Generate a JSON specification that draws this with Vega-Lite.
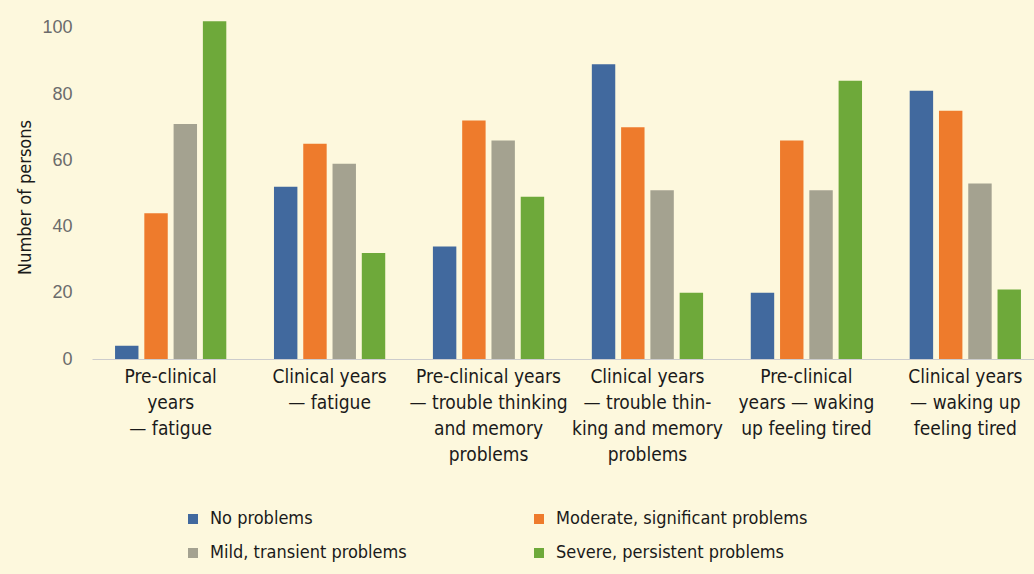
{
  "$schema": "https://vega.github.io/schema/vega-lite/v6.json",
  "width": 952,
  "height": 349,
  "autosize": {"type": "none"},
  "padding": {"left": 92, "top": 10, "right": 0, "bottom": 215},
  "background": "#fdf8dd",
  "config": {"view": {"stroke": null}, "font": "'Liberation Sans Narrow', 'DejaVu Sans Condensed', 'Roboto Condensed', Roboto, sans-serif"},
  "data": {
    "values": [
      {"group": "Pre-clinical|years|— fatigue", "cat": "No problems", "value": 4},
      {"group": "Pre-clinical|years|— fatigue", "cat": "Moderate, significant problems", "value": 44},
      {"group": "Pre-clinical|years|— fatigue", "cat": "Mild, transient problems", "value": 71},
      {"group": "Pre-clinical|years|— fatigue", "cat": "Severe, persistent problems", "value": 102},
      {"group": "Clinical years|— fatigue", "cat": "No problems", "value": 52},
      {"group": "Clinical years|— fatigue", "cat": "Moderate, significant problems", "value": 65},
      {"group": "Clinical years|— fatigue", "cat": "Mild, transient problems", "value": 59},
      {"group": "Clinical years|— fatigue", "cat": "Severe, persistent problems", "value": 32},
      {"group": "Pre-clinical years|— trouble thinking|and memory|problems", "cat": "No problems", "value": 34},
      {"group": "Pre-clinical years|— trouble thinking|and memory|problems", "cat": "Moderate, significant problems", "value": 72},
      {"group": "Pre-clinical years|— trouble thinking|and memory|problems", "cat": "Mild, transient problems", "value": 66},
      {"group": "Pre-clinical years|— trouble thinking|and memory|problems", "cat": "Severe, persistent problems", "value": 49},
      {"group": "Clinical years|— trouble thin-|king and memory|problems", "cat": "No problems", "value": 89},
      {"group": "Clinical years|— trouble thin-|king and memory|problems", "cat": "Moderate, significant problems", "value": 70},
      {"group": "Clinical years|— trouble thin-|king and memory|problems", "cat": "Mild, transient problems", "value": 51},
      {"group": "Clinical years|— trouble thin-|king and memory|problems", "cat": "Severe, persistent problems", "value": 20},
      {"group": "Pre-clinical|years — waking|up feeling tired", "cat": "No problems", "value": 20},
      {"group": "Pre-clinical|years — waking|up feeling tired", "cat": "Moderate, significant problems", "value": 66},
      {"group": "Pre-clinical|years — waking|up feeling tired", "cat": "Mild, transient problems", "value": 51},
      {"group": "Pre-clinical|years — waking|up feeling tired", "cat": "Severe, persistent problems", "value": 84},
      {"group": "Clinical years|— waking up|feeling tired", "cat": "No problems", "value": 81},
      {"group": "Clinical years|— waking up|feeling tired", "cat": "Moderate, significant problems", "value": 75},
      {"group": "Clinical years|— waking up|feeling tired", "cat": "Mild, transient problems", "value": 53},
      {"group": "Clinical years|— waking up|feeling tired", "cat": "Severe, persistent problems", "value": 21}
    ]
  },
  "mark": {"type": "bar"},
  "encoding": {
    "x": {
      "field": "group",
      "type": "nominal",
      "sort": null,
      "scale": {"paddingInner": 0.3, "paddingOuter": 0.145},
      "axis": {
        "title": null,
        "labelAngle": 0,
        "ticks": false,
        "domainColor": "#cccccc",
        "labelExpr": "split(datum.label, '|')",
        "labelFontSize": 19,
        "labelLineHeight": 26,
        "labelColor": "#1a1a1a",
        "labelPadding": 8,
        "labelBaseline": "top",
        "labelLimit": 300
      }
    },
    "xOffset": {
      "field": "cat",
      "type": "nominal",
      "sort": ["No problems", "Moderate, significant problems", "Mild, transient problems", "Severe, persistent problems"],
      "scale": {"paddingInner": 0.2, "paddingOuter": 0}
    },
    "y": {
      "field": "value",
      "type": "quantitative",
      "scale": {"domain": [0, 105.4], "nice": false},
      "axis": {
        "title": "Number of persons",
        "values": [0, 20, 40, 60, 80, 100],
        "grid": false,
        "domain": false,
        "ticks": false,
        "labelFont": "Liberation Sans",
        "labelFontSize": 18,
        "labelColor": "#6b6b6b",
        "labelPadding": 20,
        "titleFontSize": 18,
        "titleFontWeight": "normal",
        "titleColor": "#1a1a1a",
        "titlePadding": 7,
        "titleY": 187
      }
    },
    "color": {
      "field": "cat",
      "type": "nominal",
      "scale": {
        "domain": ["No problems", "Moderate, significant problems", "Mild, transient problems", "Severe, persistent problems"],
        "range": ["#41699e", "#ee7b2c", "#a4a290", "#6ea93a"]
      },
      "legend": {
        "orient": "none",
        "legendX": 92,
        "legendY": 500,
        "direction": "horizontal",
        "columns": 2,
        "title": null,
        "symbolType": "square",
        "symbolSize": 100,
        "labelFontSize": 18,
        "labelColor": "#1a1a1a",
        "columnPadding": 123,
        "rowPadding": 16,
        "labelLimit": 400,
        "labelOffset": 8
      }
    }
  }
}
